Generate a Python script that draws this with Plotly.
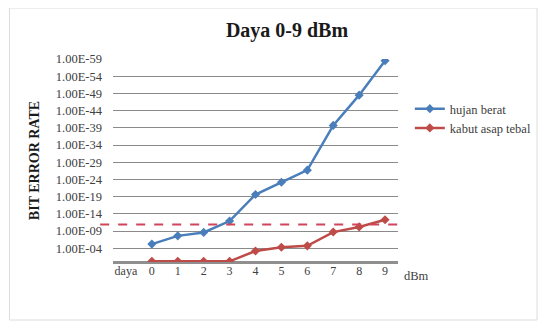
import plotly.graph_objects as go

categories = ["daya", "0", "1", "2", "3", "4", "5", "6", "7", "8", "9"]
power_dbm = [0, 1, 2, 3, 4, 5, 6, 7, 8, 9]
# values are -log10(BER)
hujan_berat = [5.2, 7.6, 8.6, 11.9, 19.6, 23.2, 26.7, 39.7, 48.5, 58.5]
kabut_asap_tebal = [0.2, 0.2, 0.2, 0.2, 3.2, 4.3, 4.7, 8.7, 10.2, 12.3]
threshold = 10.9
ytick_exps = [4, 9, 14, 19, 24, 29, 34, 39, 44, 49, 54, 59]
ytick_labels = ["1.00E-%02d" % e for e in ytick_exps]

FONT = "'Liberation Serif', 'Times New Roman', serif"
# page body has an 8px margin, so the figure is laid out 8px smaller
W, H = 541, 314
L, R, T, B = 105, 147, 51, 60
pw = W - L - R
ph = H - T - B


def px(x):
    return (x - L) / pw


def py(y):
    return (H - B - y) / ph


fig = go.Figure()
fig.add_trace(go.Scatter(
    x=power_dbm, y=hujan_berat, name="hujan berat", mode="lines+markers",
    line=dict(color="#4a7ebb", width=2.5),
    marker=dict(symbol="diamond", size=7, color="#4a7ebb"),
))
fig.add_trace(go.Scatter(
    x=power_dbm, y=kabut_asap_tebal, name="kabut asap tebal", mode="lines+markers",
    line=dict(color="#be4b48", width=2.5),
    marker=dict(symbol="diamond", size=7, color="#be4b48"),
))

# threshold dashed line (extends slightly left of plot area)
fig.add_shape(type="line", xref="paper", yref="y",
              x0=px(92), x1=1.0, y0=threshold, y1=threshold,
              line=dict(color="#d0455a", width=2, dash="dash"))
# chart border
fig.add_shape(type="rect", xref="paper", yref="paper",
              x0=px(0), x1=px(535), y0=py(312), y1=py(0),
              line=dict(color="#dcdcdc", width=1), layer="below")

fig.add_annotation(text="dBm", xref="paper", yref="paper",
                   x=px(413), y=py(268),
                   showarrow=False, xanchor="center", yanchor="middle",
                   font=dict(family=FONT, size=12.5, color="#404040"))

fig.update_layout(
    width=W, height=H,
    margin=dict(l=L, r=R, t=T, b=B),
    paper_bgcolor="white", plot_bgcolor="white",
    font=dict(family=FONT, size=11, color="#404040"),
    title=dict(text="<b>Daya 0-9 dBm</b>", x=279 / W, xanchor="center",
               y=1 - 22 / H, yanchor="middle",
               font=dict(family=FONT, size=20, color="#1a1a1a")),
    showlegend=True,
    legend=dict(x=px(406), y=py(86), xanchor="left", yanchor="top",
                font=dict(family=FONT, size=12.5, color="#404040"),
                bgcolor="rgba(0,0,0,0)", tracegroupgap=4),
    xaxis=dict(range=[-1.5, 9.5], tickmode="array",
               tickvals=list(range(-1, 10)), ticktext=categories,
               showgrid=False, zeroline=False, showline=False,
               tickfont=dict(family=FONT, size=12, color="#404040")),
    yaxis=dict(range=[0, 59], tickmode="array", tickvals=ytick_exps,
               ticktext=ytick_labels, showgrid=True, gridcolor="#8a8a8a",
               gridwidth=1.3, zeroline=True, zerolinecolor="#8f8f8f",
               zerolinewidth=3, ticklabelstandoff=10,
               tickfont=dict(family=FONT, size=12.5, color="#404040"),
               title=dict(text="<b>BIT ERROR RATE</b>", standoff=12,
                          font=dict(family=FONT, size=14, color="#1a1a1a"))),
)

fig.write_html("out.html")
